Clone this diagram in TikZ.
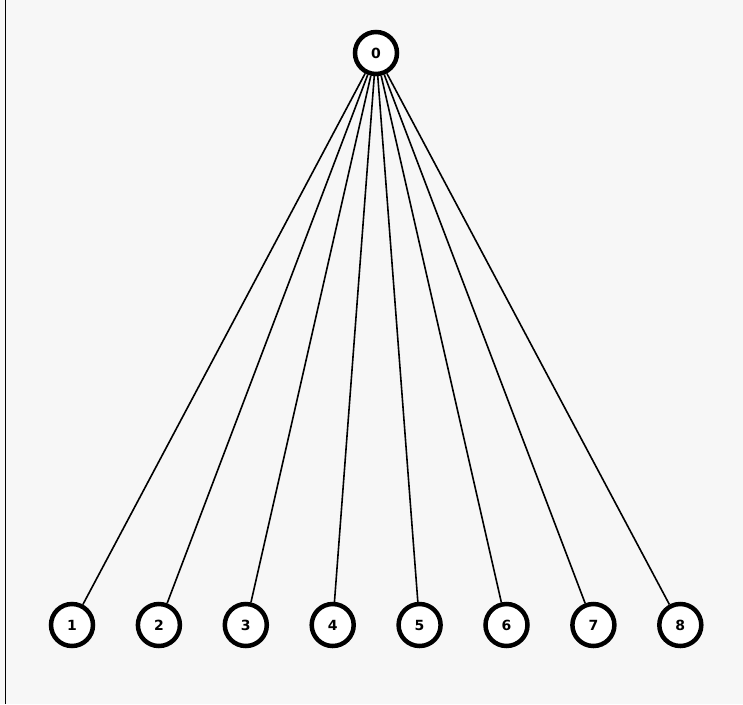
\documentclass[tikz,border=0pt]{standalone}
\usepackage{fontspec}
\setmainfont{DejaVu Sans}
\definecolor{bg}{HTML}{F7F7F7}
\begin{document}
\begin{tikzpicture}[x=1pt,y=-1pt,
  vtx/.style={circle,draw=black,fill=white,line width=4.5pt,minimum size=42pt,inner sep=0pt,font=\bfseries\fontsize{14}{14}\selectfont},
  edge/.style={draw=black,line width=1.6pt}]
\fill[bg] (0,0) rectangle (743,704);
\useasboundingbox (0,0) rectangle (743,704);
\draw[line width=1pt] (5.5,0) -- (5.5,704);
\node[vtx] (n0) at (376,53) {0};
\foreach \i in {1,...,8} {
  \node[vtx] (n\i) at ({72+86.9*(\i-1)},625) {\i};
}
\foreach \i in {1,...,8} {
  \path[edge] (n0) -- (n\i);
}
\end{tikzpicture}
\end{document}
